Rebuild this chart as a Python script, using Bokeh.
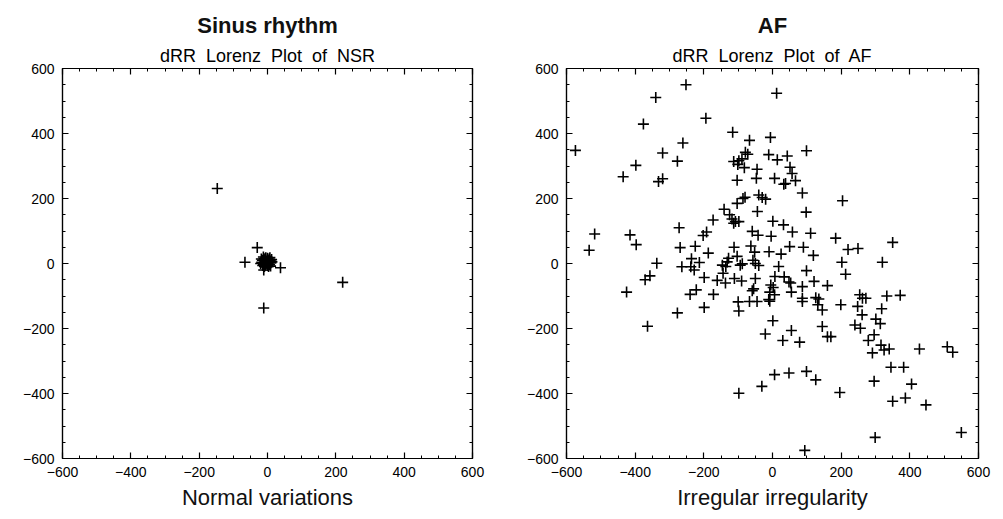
from bokeh.plotting import figure
from bokeh.models import Range1d, LinearAxis, FixedTicker, Title
from bokeh.layouts import row
from bokeh.embed import file_html
from bokeh.resources import INLINE

# ---- data ----
nsr_x = [-147, -30, -66, 38, 220, -11, -11,
         -15, -10, -5, 0, 5, 8, 10, 6, 0, -6, -12, -17, -8, -2, 3, -4, 2, -10, 4,
         -14, 9, -6, 12, -18, 0, -3, 6, -9, 3, 13, -20, 7, -12]
nsr_y = [231, 49, 4, -13, -58, -137, -20,
         10, 15, 18, 16, 14, 8, 2, -4, -6, -5, -2, 4, 5, 8, 4, 0, -1, 10, 10,
         -6, -8, 12, 12, 14, 0, 3, 6, -9, -9, 5, 0, 18, 20]

af_pts = [
    (-252, 550), (12, 524), (-340, 511), (-376, 429), (-194, 447), (-574, 348), (-116, 404),
    (-67, 379), (-6, 388), (-261, 371), (99, 347), (-320, 340), (-277, 315), (-398, 302),
    (-79, 342), (-72, 336), (-89, 322), (-98, 316), (-113, 314), (-101, 305), (-82, 295),
    (-11, 335), (14, 319), (43, 331), (-45, 290), (51, 296), (57, 277),
    (-435, 267), (-320, 261), (-332, 252), (-103, 256), (-47, 262), (6, 262), (33, 244),
    (38, 246), (67, 255), (87, 217),
    (-86, 200), (-80, 204), (-103, 185), (-40, 211), (-30, 203), (-20, 198), (204, 193),
    (-44, 160), (98, 158), (-141, 167),
    (-125, 150), (-118, 137), (-108, 129), (-98, 129), (-113, 124), (-173, 134), (1, 130),
    (32, 119), (-272, 110), (-518, 91), (-415, 88), (-192, 97), (-202, 86), (-59, 99),
    (-42, 87), (-4, 84), (58, 97), (111, 93), (184, 78),
    (-397, 58), (-534, 41), (-269, 49), (-225, 53), (-187, 32), (-112, 50), (-63, 54),
    (-52, 35), (-10, 36), (25, 29), (50, 52), (90, 50), (119, 25), (220, 43), (249, 46), (350, 65),
    (-337, 1), (-264, -10), (-236, 15), (-238, -10), (-228, -20), (-213, 3), (-357, -38),
    (-371, -50), (-128, 16), (-103, 22), (-146, -5), (-136, -9), (-132, 5), (-144, -30),
    (-94, -5), (-88, -1),
    (-57, 10), (-50, 0), (-40, -6), (18, -9), (99, -22), (202, 4), (213, -33), (320, 4),
    (7, -40), (34, -41), (-199, -43), (-161, -52), (-137, -60), (-111, -46), (-90, -54),
    (-50, -46), (48, -57), (53, -60),
    (-425, -88), (-222, -81), (-240, -95), (-172, -95), (-59, -84), (-55, -78), (-5, -66),
    (2, -74), (-8, -88), (6, -96), (-11, -111), (-8, -116), (55, -88), (87, -71), (87, -107),
    (87, -117), (121, -55), (160, -68), (126, -105), (135, -109), (132, -127), (145, -143),
    (199, -127),
    (-100, -118), (-67, -117), (-45, -117), (-98, -146), (-277, -152), (-199, -135),
    (-364, -193), (1, -176), (-21, -217), (30, -237), (55, -206), (79, -242), (145, -194),
    (160, -225), (170, -225),
    (248, -132), (240, -189), (256, -199), (261, -158), (254, -96), (262, -107), (272, -107),
    (333, -100), (372, -98), (318, -139), (301, -171), (314, -185), (296, -219), (279, -237),
    (291, -275), (316, -251), (325, -266), (340, -263), (428, -263), (509, -256), (525, -273),
    (345, -319), (382, -319), (296, -362), (405, -371), (6, -342), (48, -337), (99, -332),
    (126, -358), (196, -397), (350, -424), (387, -414), (447, -435), (550, -520), (299, -535),
    (94, -575), (-31, -378), (-98, -399),
]
af_x = [p[0] for p in af_pts]
af_y = [p[1] for p in af_pts]

major_ticks = [-600, -400, -200, 0, 200, 400, 600]
minor_ticks = list(range(-600, 601, 50))
tick_labels = {v: ("\u2212" + str(abs(v)) if v < 0 else str(v)) for v in major_ticks}
blank_labels = {v: "" for v in major_ticks}

FONT = "Liberation Sans"


def style_axis(ax, show_labels):
    ax.ticker = FixedTicker(ticks=major_ticks, minor_ticks=minor_ticks)
    ax.major_tick_in = 6
    ax.major_tick_out = 0
    ax.minor_tick_in = 3
    ax.minor_tick_out = 0
    ax.axis_line_color = "black"
    ax.axis_line_width = 1.2
    ax.major_tick_line_color = "black"
    ax.minor_tick_line_color = "black"
    ax.major_tick_line_width = 1.2
    ax.minor_tick_line_width = 1.0
    ax.major_label_text_font = FONT
    ax.major_label_text_font_size = "14px"
    ax.major_label_text_color = "black"
    if show_labels:
        ax.major_label_overrides = dict(tick_labels)
        ax.major_label_standoff = 8
    else:
        ax.major_label_overrides = dict(blank_labels)
        ax.major_label_standoff = 0


def make_panel(xs, ys, title, subtitle, caption, fw, bl, br):
    p = figure(frame_width=fw, frame_height=390,
               x_range=Range1d(-600, 600), y_range=Range1d(-600, 600),
               output_backend="svg", toolbar_location=None, title_location=None,
               min_border_left=bl, min_border_right=br,
               min_border_top=68, min_border_bottom=60)
    p.grid.visible = False
    p.outline_line_color = "black"
    p.outline_line_width = 1.2
    p.background_fill_color = "white"
    p.border_fill_color = "white"
    for ax in p.xaxis:
        style_axis(ax, True)
    for ax in p.yaxis:
        style_axis(ax, True)
    top = LinearAxis()
    style_axis(top, False)
    p.add_layout(top, "above")
    right = LinearAxis()
    style_axis(right, False)
    p.add_layout(right, "right")

    p.scatter(xs, ys, marker="cross", size=11, line_color="black", line_width=1.6)

    p.add_layout(Title(text=subtitle, align="center", text_font=FONT,
                       text_font_size="18px", text_font_style="normal",
                       text_color="black", standoff=6), "above")
    p.add_layout(Title(text=title, align="center", text_font=FONT,
                       text_font_size="22px", text_font_style="bold",
                       text_color="#111111", standoff=5), "above")
    p.add_layout(Title(text=caption, align="center", text_font=FONT,
                       text_font_size="22px", text_font_style="normal",
                       text_color="#111111", standoff=6), "below")
    return p


sp = "\u00a0 "
p1 = make_panel(nsr_x, nsr_y, "Sinus rhythm",
                sp.join(["dRR", "Lorenz", "Plot", "of", "NSR"]),
                "Normal variations", 410, 62, 36)
p2 = make_panel(af_x, af_y, "AF",
                sp.join(["dRR", "Lorenz", "Plot", "of", "AF"]),
                "Irregular irregularity", 412, 58, 15)

layout = row(p1, p2)
open("out.html", "w").write(file_html(layout, INLINE))
